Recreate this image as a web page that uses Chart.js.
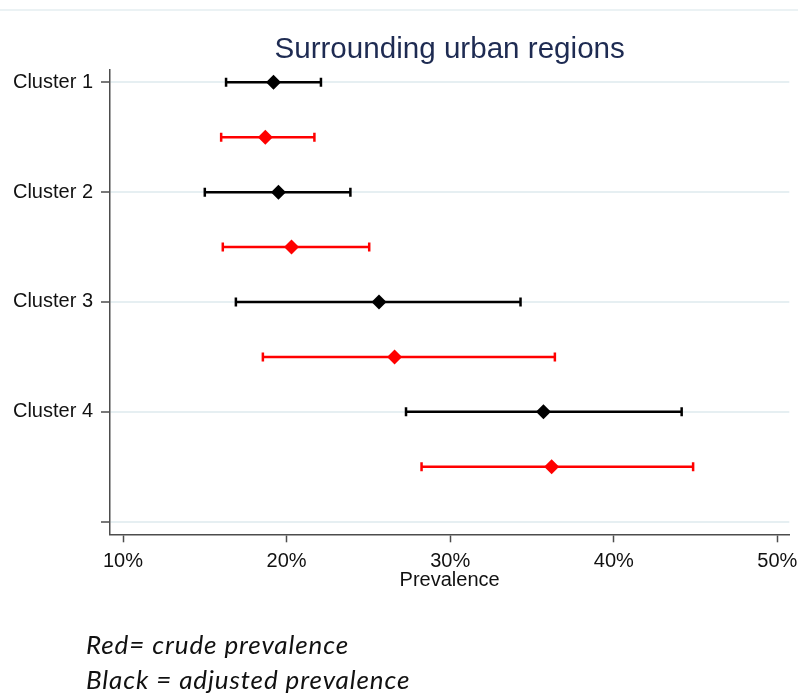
<!DOCTYPE html>
<html>
<head>
<meta charset="utf-8">
<script src="https://cdn.jsdelivr.net/npm/chart.js@4.4.1/dist/chart.umd.min.js"></script>
<style>
  html, body { margin: 0; padding: 0; background: #fff; }
  #wrap { position: relative; width: 798px; height: 698px; overflow: hidden; background: #fff; }
  #c { position: absolute; left: 0; top: 0; }
  .note {
    position: absolute; left: 86px; margin: 0;
    font-family: Lato, "Open Sans", sans-serif; font-style: italic;
    font-size: 26px; line-height: 30px; letter-spacing: 0.9px;
    color: #111; white-space: nowrap;
  }
</style>
</head>
<body>
<div id="wrap">
  <canvas id="c" width="798" height="698"></canvas>
  <div class="note" style="top:629px">Red= crude prevalence</div>
  <div class="note" style="top:664px">Black = adjusted prevalence</div>
</div>
<script>
// Prevalence (%) with 95% intervals, per cluster
const clusters     = ['Cluster 1', 'Cluster 2', 'Cluster 3', 'Cluster 4'];
const adjusted     = [19.2, 19.5, 25.65, 35.7];
const adjustedLow  = [16.3, 15.0, 16.9, 27.3];
const adjustedHigh = [22.1, 23.9, 34.3, 44.15];
const crude        = [18.7, 20.3, 26.6, 36.2];
const crudeLow     = [16.0, 16.1, 18.55, 28.25];
const crudeHigh    = [21.7, 25.05, 36.4, 44.85];
const xTicks       = [10, 20, 30, 40, 50];
const yTicks       = [1, 2, 3, 4, 5];

const FONT = "'Liberation Sans', Arial, sans-serif";
const BLACK = '#000000';
const RED = '#ff0000';
const AXIS = '#4d4d4d';

// each cluster has its adjusted row at k and its crude row half a step below
const rowAdj = k => k + 1;
const rowCrude = k => k + 1.5;

function intervalSet(lo, hi, row, color) {
  return {
    type: 'scatter',
    showLine: true,
    data: [{ x: lo, y: row }, { x: hi, y: row }],
    borderColor: color,
    borderWidth: 2.5,
    pointStyle: 'line',
    rotation: 90,
    pointRadius: 4.5,
    pointHoverRadius: 4.5,
    pointBorderColor: color,
    pointBorderWidth: 2.5,
    pointBackgroundColor: color
  };
}

function estimateSet(values, rowFn, color) {
  return {
    type: 'scatter',
    data: values.map((v, k) => ({ x: v, y: rowFn(k) })),
    pointStyle: 'rectRot',
    pointRadius: 7.5,
    pointHoverRadius: 7.5,
    backgroundColor: color,
    borderColor: color,
    borderWidth: 0,
    showLine: false
  };
}

const datasets = [
  estimateSet(adjusted, rowAdj, BLACK),
  estimateSet(crude, rowCrude, RED)
];
clusters.forEach((_, k) => {
  datasets.push(intervalSet(adjustedLow[k], adjustedHigh[k], rowAdj(k), BLACK));
  datasets.push(intervalSet(crudeLow[k], crudeHigh[k], rowCrude(k), RED));
});

// thin rule across the top of the figure
const topRule = {
  id: 'topRule',
  beforeDraw(chart) {
    const ctx = chart.ctx;
    ctx.save();
    ctx.fillStyle = '#ffffff';
    ctx.fillRect(0, 0, chart.width, chart.height);
    ctx.strokeStyle = '#e4eef0';
    ctx.lineWidth = 1.5;
    ctx.beginPath();
    ctx.moveTo(0, 10);
    ctx.lineTo(chart.width, 10);
    ctx.stroke();
    ctx.restore();
  }
};

// keep tick labels from pushing the plot edges inward
const noLabelPadding = s => {
  s.paddingLeft = 0; s.paddingRight = 0; s.paddingTop = 0; s.paddingBottom = 0;
};

new Chart(document.getElementById('c'), {
  type: 'scatter',
  data: { datasets },
  plugins: [topRule],
  options: {
    responsive: false,
    animation: false,
    devicePixelRatio: 1,
    events: [],
    layout: { padding: { left: 0, right: 8.7, top: 0, bottom: 103.7 } },
    plugins: {
      legend: { display: false },
      tooltip: { enabled: false },
      title: {
        display: true,
        text: 'Surrounding urban regions',
        fullSize: false,
        color: '#1e2b52',
        font: { family: FONT, size: 29.6, weight: 'normal' },
        lineHeight: 1.2,
        padding: { top: 32, bottom: 1.8 }
      }
    },
    scales: {
      x: {
        type: 'linear',
        position: 'bottom',
        min: 9.205,
        max: 50.73,
        afterBuildTicks: s => { s.ticks = xTicks.map(v => ({ value: v })); },
        afterFit: s => { s.height = 60; noLabelPadding(s); },
        ticks: {
          color: '#111',
          font: { family: FONT, size: 20 },
          padding: 7,
          maxRotation: 0,
          callback: v => v + '%'
        },
        grid: {
          drawOnChartArea: false,
          drawTicks: true,
          tickLength: 8,
          tickColor: AXIS,
          tickWidth: 1.5
        },
        border: { display: true, color: AXIS, width: 1.5 },
        title: {
          display: true,
          text: 'Prevalence',
          color: '#111',
          font: { family: FONT, size: 20 },
          padding: { top: 0, bottom: 1.5 }
        }
      },
      y: {
        type: 'linear',
        position: 'left',
        reverse: true,
        min: 0.882,
        max: 5.115,
        afterBuildTicks: s => { s.ticks = yTicks.map(v => ({ value: v })); },
        afterFit: s => { s.width = 110; noLabelPadding(s); },
        ticks: {
          color: '#111',
          font: { family: FONT, size: 20 },
          padding: 8,
          callback: v => clusters[v - 1] || ''
        },
        grid: {
          color: '#e6eff2',
          lineWidth: 2,
          drawTicks: true,
          tickLength: 9,
          tickColor: AXIS,
          tickWidth: 1.5
        },
        border: { display: true, color: AXIS, width: 1.5 }
      }
    }
  }
});
</script>
</body>
</html>
